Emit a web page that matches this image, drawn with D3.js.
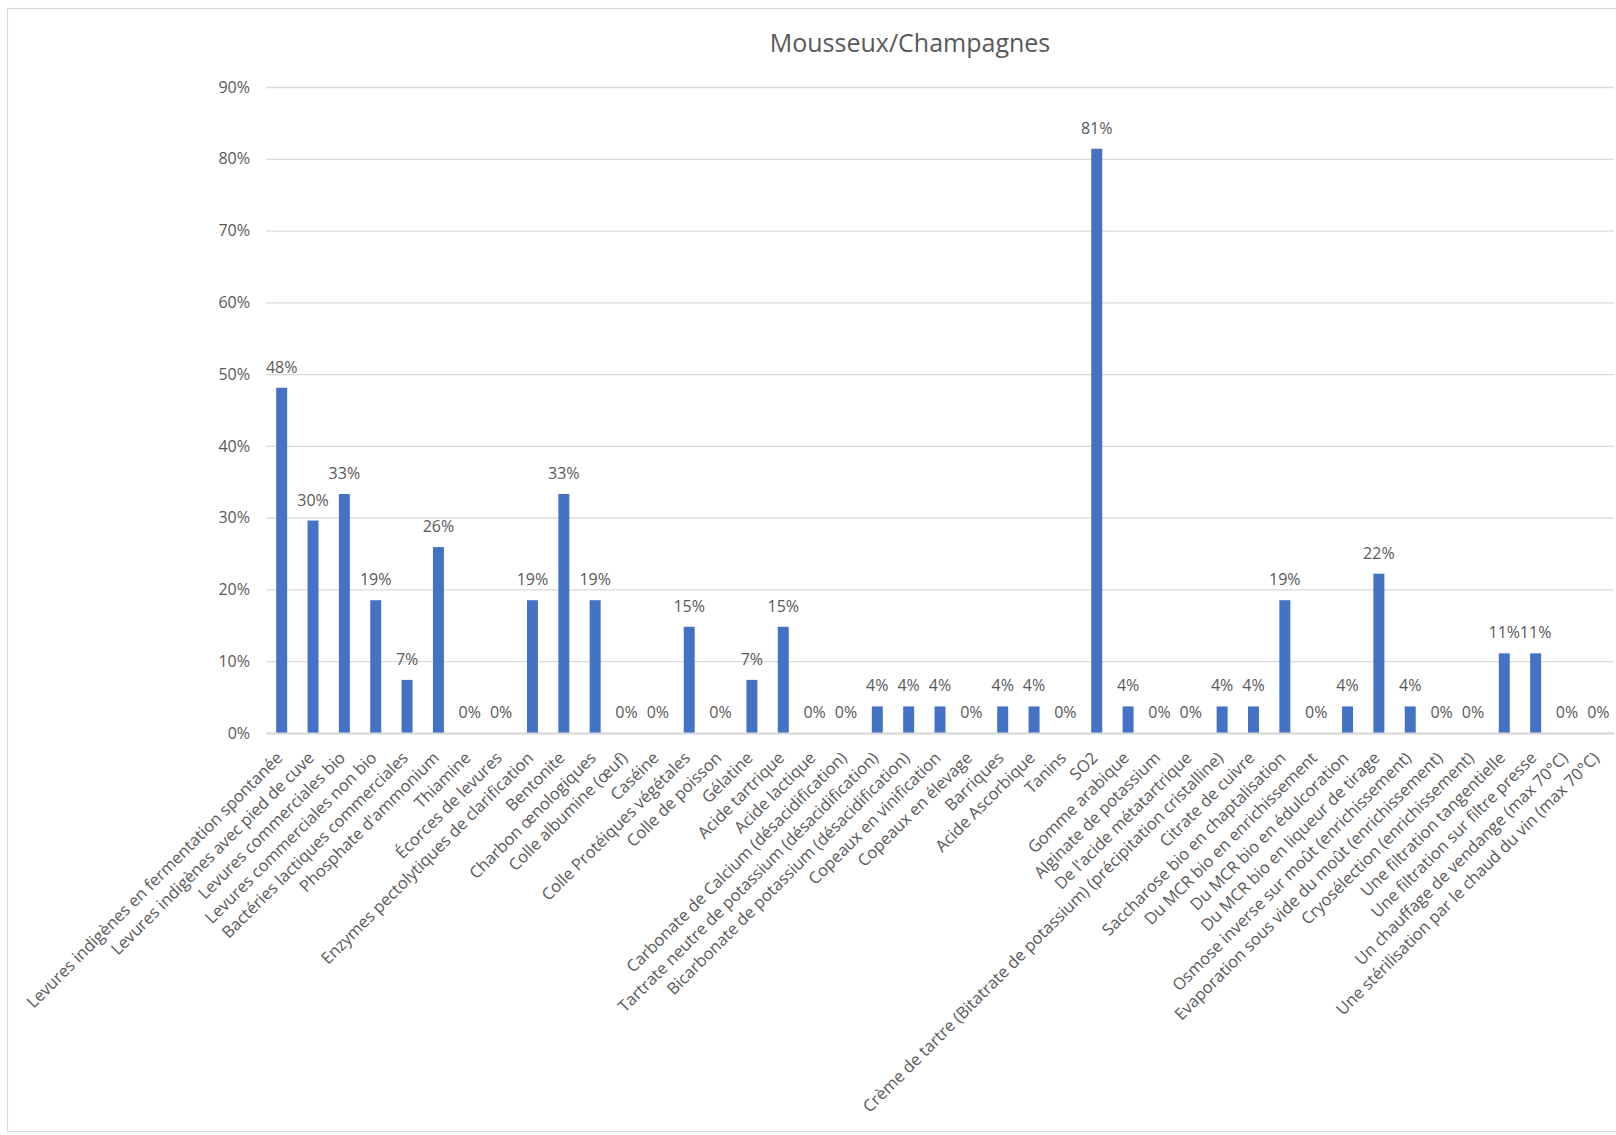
<!DOCTYPE html>
<html>
<head>
<meta charset="utf-8">
<script src="https://cdn.jsdelivr.net/npm/d3@7"></script>
<style>
  html, body { margin: 0; padding: 0; background: #ffffff; }
  svg { display: block; }
  text { font-family: "Segoe UI", "Open Sans", "Noto Sans", sans-serif; fill: #595959; }
</style>
</head>
<body>
<svg id="chart" width="1616" height="1135"></svg>
<script>
// Share of respondents using each product / practice (sparkling wines)
const categories = [
  "Levures indigènes en fermentation spontanée",
  "Levures indigènes avec pied de cuve",
  "Levures commerciales bio",
  "Levures commerciales non bio",
  "Bactéries lactiques commerciales",
  "Phosphate d'ammonium",
  "Thiamine",
  "Écorces de levures",
  "Enzymes pectolytiques de clarification",
  "Bentonite",
  "Charbon œnologiques",
  "Colle albumine (œuf)",
  "Caséine",
  "Colle Protéiques végétales",
  "Colle de poisson",
  "Gélatine",
  "Acide tartrique",
  "Acide lactique",
  "Carbonate de Calcium (désacidification)",
  "Tartrate neutre de potassium (désacidification)",
  "Bicarbonate de potassium (désacidification)",
  "Copeaux en vinification",
  "Copeaux en élevage",
  "Barriques",
  "Acide Ascorbique",
  "Tanins",
  "SO2",
  "Gomme arabique",
  "Alginate de potassium",
  "De l'acide métatartrique",
  "Crème de tartre (Bitatrate de potassium) (précipitation cristalline)",
  "Citrate de cuivre",
  "Saccharose bio en chaptalisation",
  "Du MCR bio en enrichissement",
  "Du MCR bio en édulcoration",
  "Du MCR bio en liqueur de tirage",
  "Osmose inverse sur moût (enrichissement)",
  "Evaporation sous vide du moût (enrichissement)",
  "Cryosélection (enrichissement)",
  "Une filtration tangentielle",
  "Une filtration sur filtre presse",
  "Un chauffage de vendange (max 70°C)",
  "Une stérilisation par le chaud du vin (max 70°C)"
];

const values = [
  0.481, 0.296, 0.333, 0.185, 0.074, 0.259, 0, 0, 0.185, 0.333,
  0.185, 0, 0, 0.148, 0, 0.074, 0.148, 0, 0, 0.037,
  0.037, 0.037, 0, 0.037, 0.037, 0, 0.814, 0.037, 0, 0,
  0.037, 0.037, 0.185, 0, 0.037, 0.222, 0.037, 0, 0, 0.111,
  0.111, 0, 0
];

const yTicks = [0, 0.1, 0.2, 0.3, 0.4, 0.5, 0.6, 0.7, 0.8, 0.9];
const chartTitle = "Mousseux/Champagnes";

const data = categories.map((c, i) => ({ category: c, value: values[i] }));

const svg = d3.select("#chart");
const plot = { left: 266, right: 1614, top: 87, bottom: 733 };

// chart area frame (extends past the right edge)
svg.append("rect")
  .attr("x", 7.5).attr("y", 8.5)
  .attr("width", 1700).attr("height", 1123)
  .attr("fill", "none")
  .attr("stroke", "#d9d9d9")
  .attr("stroke-width", 1.2);

const x = d3.scaleBand()
  .domain(categories)
  .range([plot.left, plot.right])
  .paddingInner(0.65)
  .paddingOuter(0.325);

const y = d3.scaleLinear()
  .domain([0, 0.9])
  .range([plot.bottom, plot.top]);

// horizontal gridlines + y labels
const yAxis = d3.axisLeft(y)
  .tickValues(yTicks)
  .tickFormat(d3.format(".0%"))
  .tickSize(-(plot.right - plot.left))
  .tickPadding(16);

const gy = svg.append("g")
  .attr("transform", `translate(${plot.left},0)`)
  .call(yAxis);
gy.select(".domain").remove();
gy.selectAll(".tick line")
  .attr("stroke", "#d9d9d9")
  .attr("stroke-width", 1.3);
gy.selectAll(".tick text")
  .attr("font-size", 16)
  .attr("fill", "#595959");

// bars
svg.append("g")
  .selectAll("rect")
  .data(data)
  .join("rect")
  .attr("x", d => x(d.category))
  .attr("width", x.bandwidth())
  .attr("y", d => y(d.value))
  .attr("height", d => y(0) - y(d.value))
  .attr("fill", "#4472C4");

// category axis, labels slanted at 45°
const xAxis = d3.axisBottom(x).tickSize(0).tickPadding(0);
const gx = svg.append("g")
  .attr("transform", `translate(0,${plot.bottom})`)
  .call(xAxis);
gx.select(".domain")
  .attr("stroke", "#d9d9d9")
  .attr("stroke-width", 2);
gx.selectAll(".tick text")
  .attr("font-size", 16.5)
  .attr("fill", "#595959")
  .attr("text-anchor", "end")
  .attr("dy", 0)
  .attr("transform", "translate(2,26) rotate(-45)")
  .attr("y", 0)
  .attr("x", 0);

// value labels
svg.append("g")
  .selectAll("text")
  .data(data)
  .join("text")
  .attr("x", d => x(d.category) + x.bandwidth() / 2)
  .attr("y", d => y(d.value) - 15)
  .attr("text-anchor", "middle")
  .attr("font-size", 16)
  .text(d => d3.format(".0%")(d.value));

// title
svg.append("text")
  .attr("x", 910)
  .attr("y", 52)
  .attr("text-anchor", "middle")
  .attr("font-size", 25)
  .text(chartTitle);
</script>
</body>
</html>
